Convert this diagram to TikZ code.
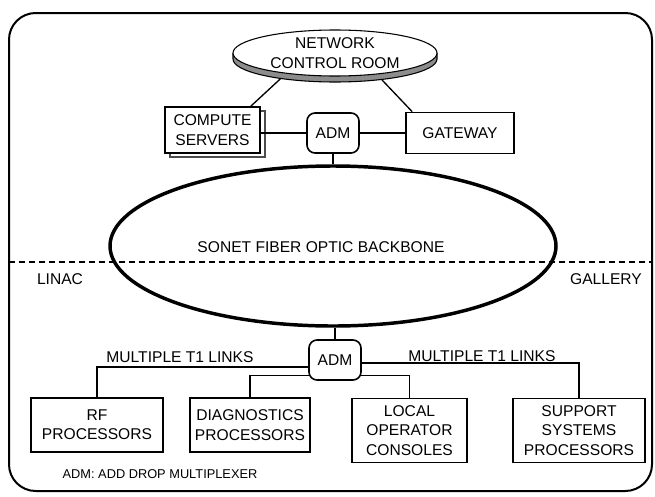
\documentclass[tikz,border=0pt]{standalone}
\usepackage{fontspec}
\setmainfont{Liberation Sans}
\usetikzlibrary{arrows.meta, calc, positioning, shapes.geometric, shadows}

\tikzset{
  unitbox/.style={draw, line width=1.2pt, fill=white, align=center, inner sep=0pt},
  admbox/.style={draw, line width=1.2pt, fill=white, rounded corners=6pt, minimum width=39pt, minimum height=30pt, inner sep=0pt},
  link/.style={line width=1pt},
}

\begin{document}
\begin{tikzpicture}[x=0.75pt, y=0.75pt, font=\fontsize{11.7}{14.5}\selectfont]
\useasboundingbox (0,0) rectangle (655,-496);

% outer frame
\draw[line width=1.5pt, rounded corners=20pt] (9,-13) rectangle (652,-491);

% control room drawn as a flat disk
\fill[black!45] (233,-53) arc[start angle=180, end angle=360, x radius=76.5pt, y radius=17.25pt] -- ++(0,-6) arc[start angle=360, end angle=180, x radius=76.5pt, y radius=17.25pt] -- cycle;
\draw[line width=0.8pt] (233,-53) -- ++(0,-6) arc[start angle=180, end angle=360, x radius=76.5pt, y radius=17.25pt] -- ++(0,6);
\node[ellipse, draw, line width=0.8pt, fill=white, minimum width=153pt, minimum height=34.5pt, inner sep=0pt, align=center] (ncr) at (335,-53) {NETWORK\\CONTROL ROOM};

\node[unitbox, minimum width=71.25pt, minimum height=34.5pt, copy shadow={shadow xshift=3.75pt, shadow yshift=-3pt, draw=black!70, line width=1.4pt, fill=white}] (compute) at (212.5,-130) {COMPUTE\\SERVERS};
\node[admbox] (adm1) at (333,-133) {ADM};
\node[unitbox, minimum width=81pt, minimum height=30.75pt] (gateway) at (460,-133) {GATEWAY};

% backbone ring and the site boundary
\node[ellipse, draw, line width=2.6pt, minimum width=334.5pt, minimum height=120pt] (backbone) at (333,-246) {};
\node (backbonetext) at (321,-247) {SONET FIBER OPTIC BACKBONE};
\draw[line width=1.2pt, dash pattern=on 4.5pt off 3pt] (9,-262) -- (652,-262);
\node (linac) at (60,-279) {LINAC};
\node (gallery) at (606,-279) {GALLERY};

\node[admbox] (adm2) at (335,-360) {ADM};
\node[unitbox, minimum width=99pt, minimum height=40.5pt] (rf) at (97,-425) {RF\\PROCESSORS};
\node[unitbox, minimum width=90pt, minimum height=40.5pt] (diag) at (250,-425) {DIAGNOSTICS\\PROCESSORS};
\node[unitbox, minimum width=86.25pt, minimum height=48pt] (local) at (409.5,-430.5) {LOCAL\\OPERATOR\\CONSOLES};
\node[unitbox, minimum width=99pt, minimum height=48pt] (support) at (579,-430.5) {SUPPORT\\SYSTEMS\\PROCESSORS};

% links
\draw[link] ([yshift=-4.5pt]ncr.200) -- ([xshift=-7.5pt]compute.north east);
\draw[link] ([yshift=-4.5pt]ncr.336) -- ([xshift=5.25pt]gateway.north west);
\draw[link] (adm1.west) -- (compute.east |- adm1.west);
\draw[link] (adm1.east) -- (gateway.west |- adm1.east);
\draw[link] (adm1.south) -- (adm1.south |- backbone.north);
\draw[link] (adm2.north) -- (adm2.north |- backbone.south);
\draw[link] ([yshift=-5.25pt]adm2.west) -| (rf.north);
\draw[link] ([shift={(1pt,-11.5pt)}]adm2.west) -| (diag.north);
\draw[link] ([yshift=-2.25pt]adm2.east) -| (support.north);
\draw[link] ([shift={(-1pt,-11.5pt)}]adm2.east) -| (local.north);
\node (linksleft) at (180,-357) {MULTIPLE T1 LINKS};
\node (linksright) at (482,-356) {MULTIPLE T1 LINKS};

\node[font=\fontsize{9.6}{11}\selectfont] (legend) at (160,-474) {ADM: ADD DROP MULTIPLEXER};
\end{tikzpicture}
\end{document}
